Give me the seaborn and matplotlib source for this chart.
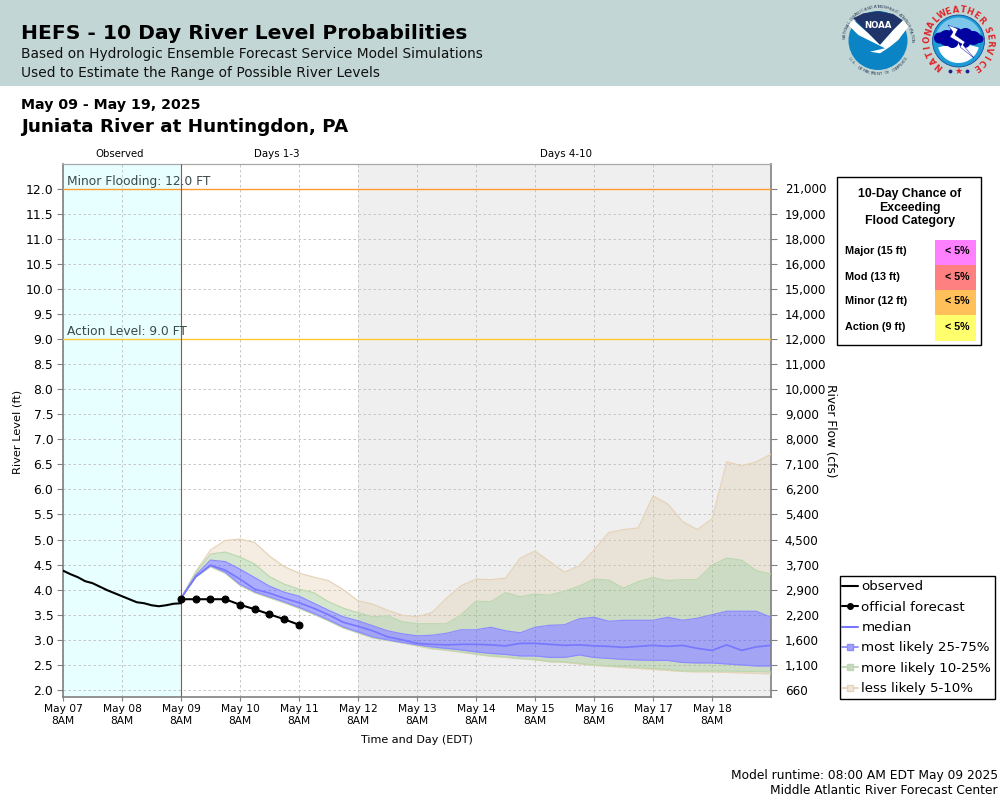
import numpy as np
import pandas as pd
import matplotlib
matplotlib.use("Agg")
import matplotlib.pyplot as plt
from matplotlib.lines import Line2D
from matplotlib.patches import Rectangle, Circle, Polygon, Wedge
import seaborn as sns

# ---------- data ----------
obs_hours = [0, 3, 6, 9, 12, 15, 18, 21, 24, 27, 30, 33, 36, 39, 42, 45, 48]
observed = [4.38, 4.31, 4.25, 4.17, 4.13, 4.06, 3.99, 3.93, 3.87, 3.81, 3.75, 3.73, 3.69, 3.67, 3.69, 3.72, 3.73]
official = [3.81, 3.81, 3.81, 3.81, 3.70, 3.61, 3.51, 3.41, 3.30]
p95 = [3.83, 4.36, 4.79, 4.98, 5.01, 4.94, 4.67, 4.46, 4.33, 4.25, 4.18, 4.00, 3.78, 3.71, 3.59, 3.49, 3.46, 3.54, 3.83, 4.08, 4.21,
       4.20, 4.23, 4.63, 4.77, 4.56, 4.35, 4.48, 4.79, 5.14, 5.20, 5.23, 5.87, 5.71, 5.36, 5.20, 5.41, 6.55, 6.47, 6.55, 6.70]
p90 = [3.83, 4.34, 4.71, 4.75, 4.65, 4.51, 4.26, 4.11, 4.01, 3.94, 3.76, 3.63, 3.54, 3.46, 3.48, 3.36, 3.32, 3.32, 3.32, 3.50, 3.77,
       3.76, 3.94, 3.86, 3.91, 3.89, 3.97, 4.07, 4.21, 4.19, 4.03, 4.16, 4.24, 4.18, 4.20, 4.20, 4.49, 4.63, 4.59, 4.38, 4.31]
p75 = [3.83, 4.29, 4.59, 4.56, 4.41, 4.24, 4.07, 3.95, 3.87, 3.73, 3.59, 3.46, 3.38, 3.28, 3.18, 3.12, 3.08, 3.09, 3.13, 3.20, 3.20,
       3.25, 3.18, 3.14, 3.25, 3.29, 3.30, 3.42, 3.45, 3.37, 3.39, 3.39, 3.39, 3.45, 3.39, 3.43, 3.50, 3.57, 3.57, 3.57, 3.45]
p50 = [3.83, 4.26, 4.49, 4.39, 4.21, 4.01, 3.93, 3.83, 3.74, 3.63, 3.50, 3.35, 3.27, 3.18, 3.06, 3.00, 2.93, 2.91, 2.90, 2.91, 2.91,
       2.90, 2.88, 2.93, 2.93, 2.91, 2.89, 2.90, 2.88, 2.87, 2.85, 2.87, 2.89, 2.87, 2.89, 2.83, 2.79, 2.90, 2.79, 2.86, 2.89]
p25 = [3.83, 4.26, 4.48, 4.35, 4.11, 3.96, 3.86, 3.76, 3.65, 3.53, 3.40, 3.26, 3.16, 3.06, 3.00, 2.95, 2.90, 2.86, 2.83, 2.80, 2.76,
       2.73, 2.71, 2.68, 2.68, 2.65, 2.65, 2.70, 2.65, 2.63, 2.61, 2.60, 2.59, 2.59, 2.55, 2.54, 2.54, 2.52, 2.50, 2.48, 2.48]
p10 = [3.83, 4.25, 4.46, 4.33, 4.09, 3.94, 3.84, 3.74, 3.63, 3.51, 3.38, 3.24, 3.14, 3.04, 2.99, 2.94, 2.89, 2.83, 2.80, 2.76, 2.72,
       2.68, 2.66, 2.63, 2.61, 2.57, 2.56, 2.53, 2.50, 2.48, 2.47, 2.45, 2.43, 2.41, 2.38, 2.38, 2.38, 2.38, 2.37, 2.37, 2.36]
p05 = [3.83, 4.25, 4.46, 4.33, 4.09, 3.94, 3.84, 3.74, 3.63, 3.51, 3.38, 3.24, 3.14, 3.04, 2.99, 2.94, 2.88, 2.82, 2.79, 2.75, 2.71,
       2.67, 2.65, 2.62, 2.60, 2.56, 2.55, 2.52, 2.49, 2.47, 2.45, 2.43, 2.41, 2.39, 2.37, 2.36, 2.36, 2.35, 2.34, 2.33, 2.32]
flow_labels = ["660", "1,100", "1,600", "2,200", "2,900", "3,700", "4,500", "5,400", "6,200", "7,100", "8,000", "9,000",
               "10,000", "11,000", "12,000", "14,000", "15,000", "16,000", "18,000", "19,000", "21,000"]
date_labels = ["May 07", "May 08", "May 09", "May 10", "May 11", "May 12", "May 13", "May 14", "May 15", "May 16", "May 17", "May 18"]
cat_labels = ["Major (15 ft)", "Mod (13 ft)", "Minor (12 ft)", "Action (9 ft)"]
cat_values = ["< 5%", "< 5%", "< 5%", "< 5%"]

hours_fc = 48 + 6 * np.arange(len(p50))
level_ticks = np.arange(2.0, 12.01, 0.5)
day_ticks = 24 * np.arange(len(date_labels))

C_TAN, C_GREEN, C_BLUE = "#DEC4A0", "#82B46E", "#3C3CFF"
L_TAN, L_GREEN, L_BLUE = "#E6D3B8", "#BCD8B0", "#8C8CFF"

sns.set_theme(style="white")
plt.rcParams["font.family"] = ["DejaVu Sans"]
fig = plt.figure(figsize=(10, 8), dpi=100, facecolor="white")

# ---------- page layer in pixel coordinates ----------
pg = fig.add_axes([0, 0, 1, 1], zorder=0)
pg.set_xlim(0, 1000); pg.set_ylim(800, 0); pg.axis("off")
pg.add_patch(Rectangle((0, 0), 1000, 86, fc="#C2D7D5", ec="none"))
pg.text(21, 33.5, "HEFS - 10 Day River Level Probabilities", fontsize=14.6, fontweight="bold", va="center", color="black")
pg.text(21, 54, "Based on Hydrologic Ensemble Forecast Service Model Simulations", fontsize=9.87, va="center", color="#111111")
pg.text(21, 73, "Used to Estimate the Range of Possible River Levels", fontsize=9.87, va="center", color="#111111")
pg.text(21, 105, "May 09 - May 19, 2025", fontsize=10.2, fontweight="bold", va="center", color="black")
pg.text(21, 126.5, "Juniata River at Huntingdon, PA", fontsize=13.2, fontweight="bold", va="center", color="black")
pg.text(120, 154, "Observed", fontsize=7.3, ha="center", va="center", color="black")
pg.text(276.5, 154, "Days 1-3", fontsize=7.4, ha="center", va="center", color="black")
pg.text(566.5, 154, "Days 4-10", fontsize=7.4, ha="center", va="center", color="black")
pg.text(417, 740, "Time and Day (EDT)", fontsize=8.0, ha="center", va="center", color="black")
pg.text(998, 775, "Model runtime: 08:00 AM EDT May 09 2025", fontsize=8.85, ha="right", va="center", color="black")
pg.text(998, 791, "Middle Atlantic River Forecast Center", fontsize=8.85, ha="right", va="center", color="black")
pg.text(18, 432, "River Level (ft)", fontsize=8.2, rotation=90, ha="center", va="center", color="black")
pg.text(831, 431, "River Flow (cfs)", fontsize=8.7, rotation=270, ha="center", va="center", color="black")


def ring_text(cx, cy, r, s, a0, a1, **kw):
    angs = np.linspace(a0, a1, len(s))
    for ch, a in zip(s, angs):
        t = np.deg2rad(a)
        rot = a - 90 if kw.get("_top", True) else a + 90
        pg.text(cx + r * np.cos(t), cy - r * np.sin(t), ch, rotation=rot, rotation_mode="anchor",
                ha="center", va="center", fontsize=kw["fs"], color=kw["c"], fontweight=kw.get("w", "normal"))


# NOAA logo
nx, ny = 878, 40.5
pg.add_patch(Circle((nx, ny), 29.5, fc="#0B84C6", ec="none"))
pg.add_patch(Polygon([[853.3, 18.3], [863.3, 13.3], [878.3, 11.2], [893.3, 14], [903.3, 20.7], [893.3, 30], [880, 45], [868.3, 33.3]],
                     fc="#1F3468", ec="none"))
pg.add_patch(Polygon([[848.3, 25], [853.3, 20], [868.3, 33.3], [880, 45], [893.3, 30], [903.3, 20], [908.3, 26.7], [898.3, 40],
                      [890, 46.7], [880, 53.3], [870, 51.7], [885, 48.3], [875, 43.3], [858.3, 35]], fc="white", ec="none"))
pg.text(nx, 25, "NOAA", fontsize=6.2, fontweight="bold", color="white", ha="center", va="center")
ring_text(nx, ny, 33.5, "NATIONAL OCEANIC AND ATMOSPHERIC ADMINISTRATION", 175, 0, fs=3.0, c="#33415E")
ring_text(nx, ny, 33.5, "U.S. DEPARTMENT OF COMMERCE", 212, 328, fs=3.0, c="#33415E", _top=False)

# NWS logo (the page y axis points down, so wedge angles run clockwise)
wx, wy = 958.5, 41
pg.add_patch(Circle((wx, wy), 26, fc="#1E9BD7", ec="#0A3C8C", lw=0.5))
pg.add_patch(Wedge((wx, wy), 23.5, 200, 340, fc="#7CC6EA", ec="none"))
pg.add_patch(Wedge((wx, wy + 1), 21, 15, 165, fc="white", ec="none"))
for dx, dy, r in [(-19, -3, 5.5), (-12, -3, 8), (-3, -6, 7.5), (7, -5, 8), (15, -3, 7), (21, -2, 4), (-6, 1, 6), (6, 1, 6)]:
    pg.add_patch(Circle((wx + dx, wy + dy), r, fc="#0202A0", ec="none"))
pg.add_patch(Polygon([[948, 25], [958, 29], [955, 35], [965, 42], [963, 45], [974, 58], [960, 47], [962, 44], [950, 37], [953, 32]],
                     fc="white", ec="#0202A0", lw=0.3))
ring_text(wx, wy, 31, "NATIONAL", 232, 135, fs=6.0, c="#E0242A", w="bold")
ring_text(wx, wy, 31, "WEATHER", 122, 42, fs=6.0, c="#E0242A", w="bold")
ring_text(wx, wy, 31, "SERVICE", 22, -55, fs=6.0, c="#E0242A", w="bold")
pg.text(958.5, 71, "★", fontsize=6.5, color="#E0242A", ha="center", va="center")
pg.plot([950, 967], [71, 71], ls="none", marker="o", ms=1.8, color="#202090")

# category table
pg.add_patch(Rectangle((836.7, 176.7), 144, 168.6, fc="white", ec="black", lw=1))
for i, s in enumerate(["10-Day Chance of", "Exceeding", "Flood Category"]):
    pg.text(910, 194.5 + 13.3 * i, s, fontsize=8.8, fontweight="bold", family="Liberation Sans", ha="center", va="center", color="black")
for i, (lab, val, col) in enumerate(zip(cat_labels, cat_values, ["#FF80FF", "#FF8080", "#FFC05A", "#FFFF6E"])):
    y0 = 240 + 25 * i
    pg.add_patch(Rectangle((935, y0), 41, 26 if i == 3 else 25, fc=col, ec="none"))
    pg.text(845, y0 + 11.5, lab, fontsize=7.8, fontweight="bold", family="Liberation Sans", va="center", color="black")
    pg.text(957.5, y0 + 11.5, val, fontsize=7.7, fontweight="bold", family="Liberation Sans", ha="center", va="center", color="black")

# legend frame
pg.add_patch(Rectangle((839.5, 575.5), 155.5, 123.5, fc="white", ec="black", lw=1))

# ---------- main axes ----------
ax = fig.add_axes([0.063, 1 - 697 / 800, 0.708, 533 / 800], zorder=2, facecolor="white")
ax.set_xlim(0, 288)
ax.set_ylim(2.0 - 7 / 50.15, 12.0 + 24.5 / 50.15)
ax.axvspan(0, 48, fc="#E8FFFF", ec="none", zorder=0)
ax.axvspan(120, 288, fc="#EFEFEF", ec="none", zorder=0)
ax.set_xticks(day_ticks)
ax.set_xticklabels([f"{d}\n8AM" for d in date_labels], fontsize=7.7, color="black", linespacing=1.25)
ax.set_yticks(level_ticks)
ax.set_yticklabels([f"{v:.1f}" for v in level_ticks], fontsize=8.9, color="black")
ax.tick_params(axis="y", length=4, width=0.8, color="#808080", left=True, pad=3)
ax.tick_params(axis="x", length=3, width=0.8, color="#808080", bottom=True, pad=2)
ax.grid(True, ls=(0, (3, 3)), lw=0.6, color="#BEBEBE", zorder=1)
ax.set_axisbelow(True)
ax.spines["top"].set_color("#A8A8A8"); ax.spines["top"].set_linewidth(0.9)
for side in ["left", "bottom", "right"]:
    ax.spines[side].set_color("#808080"); ax.spines[side].set_linewidth(1.2)

for lo, hi, fc, a in [(p90, p95, C_TAN, 0.30), (p05, p10, C_TAN, 0.30), (p75, p90, C_GREEN, 0.33),
                      (p10, p25, C_GREEN, 0.33), (p25, p75, C_BLUE, 0.42)]:
    ax.fill_between(hours_fc, lo, hi, color=fc, alpha=a, lw=0, zorder=2)
for series, lc in [(p95, L_TAN), (p05, L_TAN), (p90, L_GREEN), (p10, L_GREEN), (p75, L_BLUE), (p25, L_BLUE)]:
    sns.lineplot(x=hours_fc, y=series, color=lc, lw=0.9, ax=ax, zorder=3, legend=False, errorbar=None)
sns.lineplot(x=hours_fc, y=p50, color="#7878FF", lw=1.25, ax=ax, zorder=4, legend=False, errorbar=None)
ax.axhline(12.0, color="#FF9A2E", lw=1.0, zorder=3)
ax.axhline(9.0, color="#FFC832", lw=1.0, zorder=3)
ax.axvline(48, color="#E03030", lw=0.8, zorder=3)
ax.text(1.5, 12.14, "Minor Flooding: 12.0 FT", fontsize=8.8, color="#3A4A4A", va="center", zorder=5)
ax.text(1.5, 9.14, "Action Level: 9.0 FT", fontsize=8.8, color="#3A4A4A", va="center", zorder=5)
sns.lineplot(x=obs_hours, y=observed, color="black", lw=1.5, ax=ax, zorder=6, legend=False, errorbar=None)
sns.lineplot(x=hours_fc[:len(official)], y=official, color="black", lw=1.5, marker="o", markersize=5,
             markeredgecolor="black", ax=ax, zorder=7, legend=False, errorbar=None)
ax.set_xlabel(""); ax.set_ylabel("")

# right axis
rax = ax.twinx()
rax.set_ylim(ax.get_ylim())
rax.set_yticks(level_ticks)
rax.set_yticklabels(flow_labels, fontsize=8.6, color="black")
rax.tick_params(axis="y", length=4, width=0.8, color="#808080", right=True, pad=6)
rax.grid(False)
for s in rax.spines.values():
    s.set_visible(False)

# legend
handles = [
    Line2D([], [], color="black", lw=1.5),
    Line2D([], [], color="black", lw=1.5, marker="o", ms=4),
    Line2D([], [], color="#7878FF", lw=1.5),
    Line2D([], [], color=L_BLUE, lw=1.3, marker="s", ms=5, mfc="#A0A0FA", mec=L_BLUE),
    Line2D([], [], color=L_GREEN, lw=1.3, marker="s", ms=5, mfc="#C8D8C2", mec=L_GREEN),
    Line2D([], [], color=L_TAN, lw=1.3, marker="s", ms=5, mfc="#EFE6DA", mec=L_TAN),
]
labels = ["observed", "official forecast", "median", "most likely 25-75%", "more likely 10-25%", "less likely 5-10%"]
leg = fig.legend(handles, labels, loc="upper left", bbox_to_anchor=(0.842, 1 - 580.5 / 800), bbox_transform=fig.transFigure,
                 fontsize=9.6, frameon=False, borderaxespad=0, borderpad=0, labelspacing=0.55,
                 handlelength=1.2, handletextpad=0.25)
for t in leg.get_texts():
    t.set_color("black")
leg.set_zorder(5)

fig.savefig("out.png", dpi=100)
